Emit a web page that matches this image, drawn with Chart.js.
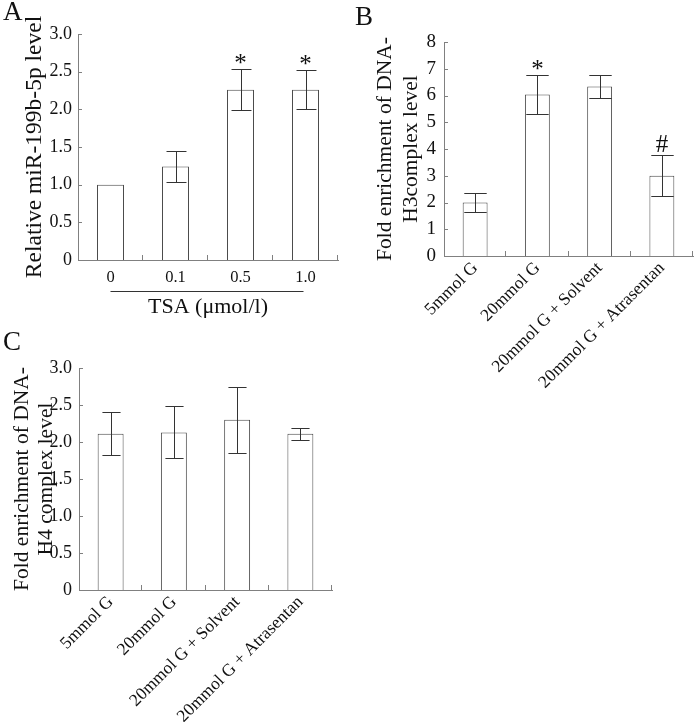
<!DOCTYPE html>
<html>
<head>
<meta charset="utf-8">
<script src="https://cdn.jsdelivr.net/npm/chart.js@4.4.0/dist/chart.umd.min.js"></script>
<style>
  body { margin: 0; background: #fff; }
  #wrap { position: relative; width: 697px; height: 722px; overflow: hidden; }
  canvas { position: absolute; }
  .tag { position: absolute; font: 27px/1 "Liberation Serif", serif; color: #111; }
</style>
</head>
<body>
<div id="wrap">
  <canvas id="chartA" width="345" height="320" style="left:0;top:0"></canvas>
  <canvas id="chartB" width="357" height="400" style="left:340px;top:0"></canvas>
  <canvas id="chartC" width="340" height="392" style="left:0;top:330px"></canvas>
  <div class="tag" style="left:3px;top:-2px">A</div>
  <div class="tag" style="left:355px;top:3px">B</div>
  <div class="tag" style="left:3px;top:328px">C</div>
</div>
<script>
const serif = '"Liberation Serif", "Times New Roman", serif';

// panel A
const tsaDoses = ['0', '0.1', '0.5', '1.0'];
const mirLevel = [1.0, 1.24, 2.26, 2.26];
const mirSd = [0, 0.21, 0.27, 0.26];
const mirMarks = ['', '', '*', '*'];
const yTicksA = ['0', '0.5', '1.0', '1.5', '2.0', '2.5', '3.0'];

// panels B and C
const glucoseGroups = ['5mmol G', '20mmol G', '20mmol G + Solvent', '20mmol G + Atrasentan'];
const h3Level = [2.0, 6.04, 6.34, 3.0];
const h3Sd = [0.34, 0.72, 0.44, 0.76];
const h3Marks = ['', '*', '', '#'];
const yTicksB = ['0', '1', '2', '3', '4', '5', '6', '7', '8'];

const h4Level = [2.11, 2.13, 2.30, 2.11];
const h4Sd = [0.29, 0.35, 0.45, 0.08];
const h4Marks = ['', '', '', ''];
const yTicksC = ['0', '0.5', '1.0', '1.5', '2.0', '2.5', '3.0'];

// error bars, significance marks, inward axis ticks
const decor = {
  id: 'decor',
  afterDatasetsDraw(chart, args, o) {
    const { ctx, chartArea: area, scales: { x, y } } = chart;
    const bars = chart.getDatasetMeta(0).data;
    const vals = chart.data.datasets[0].data;
    ctx.save();
    ctx.strokeStyle = '#333';
    ctx.lineWidth = 1;
    ctx.beginPath();
    bars.forEach((bar, i) => {
      const sd = o.sd[i];
      if (!sd) return;
      const top = Math.round(y.getPixelForValue(vals[i] + sd)) + 0.5;
      const low = Math.round(y.getPixelForValue(vals[i] - sd)) + 0.5;
      const half = bar.width * o.cap / 2;
      const cx = Math.round(bar.x) + 0.5;
      ctx.moveTo(cx, top); ctx.lineTo(cx, low);
      ctx.moveTo(cx - half, top); ctx.lineTo(cx + half, top);
      ctx.moveTo(cx - half, low); ctx.lineTo(cx + half, low);
    });
    ctx.stroke();

    ctx.fillStyle = '#111';
    ctx.textAlign = 'center';
    ctx.textBaseline = 'alphabetic';
    ctx.font = '25px ' + serif;
    bars.forEach((bar, i) => {
      const m = o.marks[i];
      if (!m) return;
      const top = y.getPixelForValue(vals[i] + o.sd[i]);
      ctx.fillText(m, bar.x, m === '#' ? top - 3 : top + 2);
    });

    ctx.strokeStyle = '#808080';
    ctx.beginPath();
    y.ticks.forEach(t => {
      const py = Math.round(y.getPixelForValue(t.value)) + 0.5;
      ctx.moveTo(area.left, py); ctx.lineTo(area.left + 4, py);
    });
    for (let i = 0; i < vals.length; i++) {
      const px = Math.round(x.getPixelForValue(i + 0.5)) - 0.5;
      ctx.moveTo(px, area.bottom); ctx.lineTo(px, area.bottom - 5);
    }
    ctx.stroke();

    if (o.bracket) {
      const by = Math.round(area.bottom + o.bracket) + 0.5;
      ctx.strokeStyle = '#333';
      ctx.beginPath();
      ctx.moveTo(x.getPixelForValue(0), by);
      ctx.lineTo(x.getPixelForValue(vals.length - 1) - 2, by);
      ctx.stroke();
    }
    ctx.restore();
  }
};

function panel(id, p) {
  return new Chart(document.getElementById(id), {
    type: 'bar',
    data: {
      labels: p.labels,
      datasets: [{
        data: p.values,
        backgroundColor: '#fff',
        borderColor: '#4a4a4a',
        borderWidth: 1,
        barPercentage: p.barPct,
        categoryPercentage: 1
      }]
    },
    options: {
      responsive: false,
      animation: false,
      devicePixelRatio: 1,
      layout: { padding: p.pad },
      plugins: {
        legend: { display: false },
        tooltip: { enabled: false },
        decor: { sd: p.sd, marks: p.marks, cap: p.cap, bracket: p.bracket }
      },
      scales: {
        x: {
          grid: { display: false, drawTicks: false },
          border: { color: '#808080' },
          ticks: {
            color: '#111',
            font: { family: serif, size: p.xFont },
            padding: p.xPad,
            autoSkip: false,
            minRotation: p.rot,
            maxRotation: p.rot
          },
          title: p.xTitle ? {
            display: true, text: p.xTitle, color: '#111', padding: 0,
            font: { family: serif, size: 22 }
          } : { display: false },
          afterFit: s => { s.height = p.xHeight; }
        },
        y: {
          min: 0,
          max: p.max,
          grid: { display: false, drawTicks: false },
          border: { color: '#808080' },
          ticks: {
            stepSize: p.step,
            color: '#111',
            padding: p.yPad,
            font: { family: serif, size: p.yFont },
            callback: (v, i) => p.yTicks[i]
          },
          title: {
            display: true, text: p.yTitle, color: '#111',
            padding: { top: p.titlePad, bottom: 0 },
            font: { family: serif, size: p.titleSize, lineHeight: p.titleLine }
          },
          afterFit: s => { s.width = p.yWidth; }
        }
      }
    },
    plugins: [decor]
  });
}

panel('chartA', {
  labels: tsaDoses, values: mirLevel, sd: mirSd, marks: mirMarks,
  max: 3, step: 0.5, yTicks: yTicksA,
  yTitle: 'Relative miR-199b-5p level', titleSize: 23.5, titleLine: '26px', titlePad: 22,
  xTitle: 'TSA (\u03bcmol/l)', bracket: 31,
  pad: { top: 34, right: 7, left: 0, bottom: 0 }, yWidth: 78, xHeight: 60,
  barPct: 0.415, cap: 0.74, rot: 0, xFont: 16.5, xPad: 8, yFont: 18, yPad: 6
});

panel('chartB', {
  labels: glucoseGroups, values: h3Level, sd: h3Sd, marks: h3Marks,
  max: 8, step: 1, yTicks: yTicksB,
  yTitle: ['Fold enrichment of DNA-', 'H3complex level'], titleSize: 21.5, titleLine: '26px', titlePad: 32,
  pad: { top: 42, right: 4, left: 0, bottom: 0 }, yWidth: 104, xHeight: 144,
  barPct: 0.40, cap: 0.9, rot: 45, xFont: 17.5, xPad: 2, yFont: 19, yPad: 8
});

panel('chartC', {
  labels: glucoseGroups, values: h4Level, sd: h4Sd, marks: h4Marks,
  max: 3, step: 0.5, yTicks: yTicksC,
  yTitle: ['Fold enrichment of DNA-', 'H4 complex level'], titleSize: 21.5, titleLine: '24px', titlePad: 10,
  pad: { top: 38, right: 8, left: 0, bottom: 0 }, yWidth: 79, xHeight: 132,
  barPct: 0.41, cap: 0.7, rot: 45, xFont: 17.5, xPad: 2, yFont: 18, yPad: 7
});
</script>
</body>
</html>
